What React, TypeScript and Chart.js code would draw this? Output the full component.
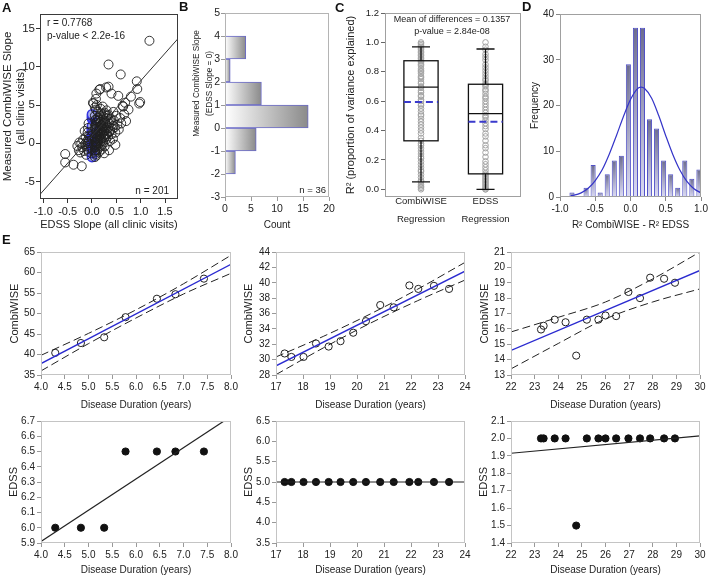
import React, { useEffect, useRef } from "react";
import { Chart, registerables } from "chart.js";
Chart.register(...registerables);

const FONT = "'Liberation Sans', Arial, Helvetica, sans-serif";
const INK = "#222222";
Chart.defaults.font.family = FONT;

// ---------------- Panel A data ----------------
const A_POINTS: [number, number][] = [
  [1.18, 13.4], [0.34, 10.3], [0.59, 9.0], [0.92, 8.1], [0.93, 7.1], [0.99, 5.4], [0.54, 6.2], [0.40, 6.5],
  [0.15, 7.0], [0.29, 7.3], [0.34, 7.4], [0.08, 5.8], [0.02, 5.3], [0.63, 4.9], [0.44, 4.1], [0.50, 3.6],
  [0.44, 2.3], [0.37, 1.6], [-0.55, -1.4], [-0.55, -2.5], [-0.38, -2.8], [-0.21, -3.0], [-0.30, -0.35],
  [-0.26, 0.1], [0.17, 7.1], [0.09, 6.5], [0.03, 5.2], [0.64, 4.8], [0.97, 5.2],
  [0.06, -0.5], [0.07, 0.2], [0.06, 0.8], [0.07, 1.3], [0.08, -0.2], [0.06, 0.5], [0.07, 1.8], [0.07, -0.9],
  [0.08, 0.1], [0.08, 2.4], [0.09, 1.1], [0.09, -0.4], [0.10, 0.7], [0.10, 1.6], [0.11, 2.9], [0.11, 0.0],
  [0.12, 1.2], [0.12, 3.3], [0.13, 0.4], [0.13, 2.1], [0.14, 1.7], [0.14, -0.6], [0.15, 2.6], [0.15, 0.9],
  [0.16, 1.4], [0.16, 3.6], [0.17, 0.2], [0.17, 2.0], [0.18, 1.1], [0.18, 2.8], [0.19, 1.6], [0.19, 3.9],
  [0.20, 0.6], [0.20, 2.3], [0.21, 1.3], [0.21, 3.1], [0.22, 1.9], [0.22, 0.3], [0.23, 2.6], [0.23, 3.5],
  [0.24, 1.0], [0.24, 2.2], [0.25, 1.5], [0.25, 3.0], [0.26, 2.0], [0.27, 2.7], [0.27, 0.8], [0.28, 1.7],
  [0.29, 3.3], [0.30, 2.4], [0.31, 1.2], [0.32, 2.9], [0.33, 2.0], [0.34, 3.7], [0.35, 1.5], [0.36, 2.6],
  [0.38, 3.2], [0.40, 2.8], [0.42, 1.9], [0.45, 3.0], [0.47, 2.1], [0.30, 4.3], [0.26, 4.0], [0.18, 4.5],
  [0.12, 4.1], [0.22, 4.8],
  [-0.06, 0.3], [-0.07, -0.6], [-0.06, 1.0], [-0.07, -1.1], [-0.08, 0.0], [-0.07, 0.6], [-0.08, -0.3],
  [-0.09, 1.4], [-0.10, -0.8], [-0.11, 0.2], [-0.12, -1.5], [-0.13, 0.8], [-0.14, -0.1], [-0.16, -1.0],
  [-0.18, 0.5], [-0.20, -0.5], [-0.22, 0.0], [-0.24, -1.2], [-0.27, -0.9], [-0.15, 1.6], [-0.08, 2.0], [-0.07, 2.6],
  [0.07, -1.2], [0.06, -1.8], [0.08, -1.4], [0.06, -1.0], [0.09, -1.6], [0.11, -0.9], [0.13, -0.2], [0.15, -1.1],
  [0.18, -0.3], [0.20, -0.8], [0.23, 0.1], [0.26, -0.4], [0.29, 0.5], [0.33, 0.9], [0.37, 0.3], [0.40, 1.2],
  [0.43, 0.6], [0.48, 1.4], [0.52, 2.4], [0.55, 1.8], [0.60, 2.6], [0.58, 3.3], [0.66, 3.8], [0.70, 2.9],
  [0.75, 4.4], [0.68, 5.3], [0.80, 6.1], [0.48, -0.2], [0.35, -0.9], [0.25, -1.3],
  [0.07, 1.9], [0.07, 3.0], [0.06, 3.6], [0.08, 4.4], [0.10, 5.0], [0.06, 4.7],
  [0.06, 2.2], [0.07, 3.1], [0.09, 2.7], [0.13, 1.5], [0.16, 0.7], [0.19, 2.4], [0.24, 3.8], [0.28, 1.1],
  [0.31, 3.6], [0.14, 3.0], [0.21, 1.8], [0.10, 0.3],
];
const A_BLUE_X = 0;
const A_BLUE_Y = [-1.8, -1.3, -0.9, -0.7, -0.5, -0.3, -0.2, -0.1, 0.05, 0.1, 0.15, 0.2, 0.3, 0.35, 0.4, 0.5,
  0.55, 0.6, 0.65, 0.7, 0.8, 0.85, 0.9, 0.95, 1.1, 1.3, 1.45, 1.5, 1.6, 1.8, 1.9, 2.3, 3.2, 3.4, 3.6, 3.8];
const A_FIT_X = [-1.07, 1.77];
const A_FIT_Y = [-6.7, 13.7];
const A_X_TICKS = [-1, -0.5, 0, 0.5, 1, 1.5];
const A_Y_TICKS = [-5, 0, 5, 10, 15];

// ---------------- Panel B data ----------------
const B_BIN_MID = [-1.5, -0.5, 0.5, 1.5, 2.5, 3.5];
const B_COUNT = [2, 6, 16, 7, 1, 4];
const B_X_TICKS = [0, 5, 10, 15, 20];
const B_Y_TICKS = [-3, -2, -1, 0, 1, 2, 3, 4, 5];

// ---------------- Panel C data ----------------
const C_GROUPS = [["CombiWISE", "Regression"], ["EDSS", "Regression"]];
const C_CW_R2 = [0.0, 0.01, 0.02, 0.03, 0.05, 0.06, 0.08, 0.1, 0.12, 0.13, 0.15, 0.17, 0.19, 0.21, 0.22, 0.24,
  0.26, 0.28, 0.3, 0.31, 0.33, 0.35, 0.38, 0.4, 0.42, 0.44, 0.46, 0.48, 0.5, 0.51, 0.53, 0.55, 0.57, 0.58, 0.6,
  0.61, 0.63, 0.64, 0.66, 0.67, 0.69, 0.7, 0.72, 0.73, 0.75, 0.76, 0.77, 0.79, 0.8, 0.81, 0.82, 0.84, 0.85, 0.86,
  0.87, 0.88, 0.89, 0.9, 0.91, 0.92, 0.93, 0.94, 0.95, 0.96, 0.97, 0.98, 0.99, 1.0];
const C_EDSS_R2 = [0.0, 0.0, 0.01, 0.02, 0.03, 0.04, 0.05, 0.06, 0.07, 0.08, 0.09, 0.1, 0.11, 0.13, 0.15, 0.17,
  0.19, 0.22, 0.25, 0.28, 0.3, 0.33, 0.36, 0.38, 0.41, 0.43, 0.45, 0.47, 0.49, 0.5, 0.52, 0.54, 0.56, 0.58, 0.6,
  0.62, 0.63, 0.65, 0.67, 0.68, 0.7, 0.71, 0.72, 0.74, 0.75, 0.77, 0.79, 0.81, 0.83, 0.85, 0.88, 0.9, 0.92, 0.95,
  0.97, 1.0];
const C_LOW = [0.05, 0.0];
const C_Q1 = [0.33, 0.105];
const C_MEDIAN = [0.695, 0.515];
const C_Q3 = [0.875, 0.715];
const C_HIGH = [0.97, 0.955];
const C_MEAN = [0.595, 0.46];
const C_Y_TICKS = [0, 0.2, 0.4, 0.6, 0.8, 1.0, 1.2];
const C_BOX_W = 0.53;
const C_CAP_W = 0.28;

// ---------------- Panel D data ----------------
const D_BIN_MID = [-0.83, -0.63, -0.53, -0.43, -0.33, -0.23, -0.13, -0.03, 0.07, 0.17, 0.27, 0.37, 0.47, 0.57,
  0.67, 0.77, 0.87, 0.97];
const D_COUNT = [1, 2, 7, 1, 5, 8, 9, 29, 37, 37, 17, 15, 8, 5, 2, 8, 4, 6];
const D_CURVE_X = [-0.85, -0.8, -0.7, -0.6, -0.5, -0.4, -0.3, -0.2, -0.1, 0, 0.1, 0.15, 0.2, 0.3, 0.4, 0.5, 0.6,
  0.7, 0.8, 0.9, 1.0];
const D_CURVE_Y = [0.3, 0.4, 0.9, 1.9, 3.6, 6.0, 9.4, 13.4, 17.6, 21.3, 23.7, 24.0, 23.7, 21.6, 17.8, 13.4, 9.3,
  5.9, 3.4, 1.8, 0.9];
const D_X_TICKS = [-1, -0.5, 0, 0.5, 1];
const D_Y_TICKS = [0, 10, 20, 30, 40];

// ---------------- Panel E data ----------------
const E1_X = [4.30, 4.84, 5.33, 5.78, 6.44, 6.83, 7.43];
const E1_Y = [40.4, 42.8, 44.2, 49.1, 53.6, 54.7, 58.5];
const E1_FIT_X = [4, 8];
const E1_FIT_Y = [37.8, 62.0];
const E1_BAND_X = [4, 5, 6, 7, 8];
const E1_UPPER = [39.8, 45.15, 50.9, 57.25, 64.2];
const E1_LOWER = [36.0, 42.65, 48.9, 54.75, 59.8];
const E1_X_TICKS = [4, 4.5, 5, 5.5, 6, 6.5, 7, 7.5, 8];
const E1_Y_TICKS = [35, 40, 45, 50, 55, 60, 65];

const E2_X = [17.32, 17.57, 18.02, 18.48, 18.95, 19.39, 19.86, 20.33, 20.86, 21.36, 21.94, 22.27, 22.85, 23.41];
const E2_Y = [30.8, 30.35, 30.35, 32.1, 31.7, 32.4, 33.5, 35.0, 37.1, 36.8, 39.65, 39.2, 39.6, 39.2];
const E2_FIT_X = [17, 24];
const E2_FIT_Y = [29.2, 41.5];
const E2_BAND_X = [17, 18.75, 20.5, 22.25, 24];
const E2_UPPER = [30.35, 33.02, 35.95, 39.17, 42.65];
const E2_LOWER = [28.05, 31.52, 34.75, 37.67, 40.35];
const E2_X_TICKS = [17, 18, 19, 20, 21, 22, 23, 24];
const E2_Y_TICKS = [28, 30, 32, 34, 36, 38, 40, 42, 44];

const E3_X = [23.27, 23.38, 23.85, 24.31, 24.76, 25.21, 25.70, 26.0, 26.45, 26.97, 27.46, 27.89, 28.48, 28.94];
const E3_Y = [15.96, 16.2, 16.6, 16.43, 14.26, 16.6, 16.6, 16.87, 16.83, 18.4, 18.0, 19.33, 19.26, 19.0];
const E3_FIT_X = [22, 30];
const E3_FIT_Y = [14.6, 19.8];
const E3_BAND_X = [22, 24, 26, 28, 30];
const E3_UPPER = [15.8, 16.75, 17.75, 19.25, 21.0];
const E3_LOWER = [13.4, 15.05, 16.65, 17.75, 18.6];
const E3_X_TICKS = [22, 23, 24, 25, 26, 27, 28, 29, 30];
const E3_Y_TICKS = [13, 14, 15, 16, 17, 18, 19, 20, 21];

const E4_Y = [6.0, 6.0, 6.0, 6.5, 6.5, 6.5, 6.5];
const E4_FIT_X = [4, 8];
const E4_FIT_Y = [5.91, 6.73];
const E4_Y_TICKS = [5.9, 6.0, 6.1, 6.2, 6.3, 6.4, 6.5, 6.6, 6.7];

const E5_Y = [5, 5, 5, 5, 5, 5, 5, 5, 5, 5, 5, 5, 5, 5];
const E5_FIT_X = [17, 24];
const E5_FIT_Y = [5.0, 5.0];
const E5_Y_TICKS = [3.5, 4.0, 4.5, 5.0, 5.5, 6.0, 6.5];

const E6_Y = [2, 2, 2, 2, 1.5, 2, 2, 2, 2, 2, 2, 2, 2, 2];
const E6_FIT_X = [22, 30];
const E6_FIT_Y = [1.915, 2.015];
const E6_Y_TICKS = [1.4, 1.5, 1.6, 1.7, 1.8, 1.9, 2.0, 2.1];

// ---------------- helpers ----------------
type Geo = { L: number; T: number; R: number; B: number; left: number; bottom: number; padTop?: number; padRight?: number };

function place(g: Geo) {
  const padTop = g.padTop ?? 10;
  const padRight = g.padRight ?? 12;
  const x = g.left;
  const y = g.T - padTop;
  return { x, y, w: g.R + padRight - x, h: g.bottom - y, yW: g.L - x, xH: g.bottom - g.B, padTop, padRight };
}

type AxisOpt = {
  min: number; max: number; ticks: number[]; fmt: (v: number, i: number) => any; size: number;
  title?: string | string[]; tSize?: number; tLH?: number; color: string; pad?: number; drawTicks?: boolean; lh?: number;
};

function axis(o: AxisOpt) {
  return {
    type: "linear",
    min: o.min,
    max: o.max,
    bounds: "data",
    offset: false,
    afterBuildTicks: (s: any) => { s.ticks = o.ticks.map((v) => ({ value: v })); },
    ticks: {
      autoSkip: false, maxRotation: 0, minRotation: 0, padding: o.pad ?? 2, color: INK,
      font: { family: FONT, size: o.size, lineHeight: o.lh ?? 1.2 },
      callback: (v: any, i: number) => o.fmt(Number(v), i),
    },
    grid: { display: true, drawOnChartArea: false, drawTicks: o.drawTicks ?? true, tickLength: 4, color: o.color, lineWidth: 1, offset: false },
    border: { display: false },
    title: o.title
      ? { display: true, text: o.title, color: INK, padding: 0, font: { family: FONT, size: o.tSize ?? 11, lineHeight: o.tLH ?? 1.2 } }
      : { display: false },
  };
}

function framePlugin(color: string) {
  return {
    id: "frame",
    afterDraw(chart: any) {
      const { ctx, chartArea: a } = chart;
      ctx.save();
      ctx.strokeStyle = color;
      ctx.lineWidth = 1;
      ctx.strokeRect(Math.round(a.left) + 0.5, Math.round(a.top) + 0.5, Math.round(a.right - a.left) - 1, Math.round(a.bottom - a.top) - 1);
      ctx.restore();
    },
  };
}

type Note = { text: string; fx: "l" | "r" | "c"; dx: number; fy: "t" | "b"; dy: number; size: number; align: CanvasTextAlign; rot?: boolean };
function notesPlugin(notes: Note[]) {
  return {
    id: "notes",
    afterDraw(chart: any) {
      const { ctx, chartArea: a } = chart;
      ctx.save();
      ctx.fillStyle = INK;
      ctx.textBaseline = "middle";
      for (const n of notes) {
        ctx.font = `${n.size}px ${FONT}`;
        ctx.textAlign = n.align;
        const x = n.fx === "l" ? a.left + n.dx : n.fx === "r" ? a.right - n.dx : (a.left + a.right) / 2 + n.dx;
        const y = n.fy === "t" ? a.top + n.dy : a.bottom - n.dy;
        if (n.rot) {
          ctx.save();
          ctx.translate(x, y);
          ctx.rotate(-Math.PI / 2);
          ctx.fillText(n.text, 0, 0);
          ctx.restore();
        } else {
          ctx.fillText(n.text, x, y);
        }
      }
      ctx.restore();
    },
  };
}

const xy = (xs: number[], ys: number[]) => xs.map((x, i) => ({ x, y: ys[i] }));
const f1 = (v: number) => v.toFixed(1);
const f0 = (v: number) => String(Math.round(v));
const ok = (...v: number[]) => v.every((n) => Number.isFinite(n));

type PanelDef = {
  geo: Geo; type: string; datasets: any[]; x: any; y: any; frame: string; plugins?: any[]; indexAxis?: string;
};

function buildConfig(def: PanelDef, p: ReturnType<typeof place>) {
  return {
    type: def.type,
    data: { datasets: def.datasets },
    options: {
      responsive: false,
      animation: false,
      events: [],
      indexAxis: def.indexAxis ?? "x",
      layout: { padding: { top: p.padTop, right: p.padRight, left: 0, bottom: 0 } },
      plugins: { legend: { display: false }, tooltip: { enabled: false }, title: { display: false } },
      scales: {
        x: { ...def.x, afterFit: (s: any) => { s.height = p.xH; } },
        y: { ...def.y, afterFit: (s: any) => { s.width = p.yW; } },
      },
    },
    plugins: [framePlugin(def.frame), ...(def.plugins ?? [])],
  } as any;
}

function Panel({ def }: { def: PanelDef }) {
  const ref = useRef<HTMLCanvasElement | null>(null);
  const p = place(def.geo);
  useEffect(() => {
    let chart: Chart | null = null;
    try {
      chart = new Chart(ref.current as HTMLCanvasElement, buildConfig(def, p));
    } catch (e) {
      console.error(e);
    }
    return () => { if (chart) chart.destroy(); };
  }, []);
  return <canvas ref={ref} width={p.w} height={p.h} style={{ position: "absolute", left: p.x, top: p.y, width: p.w, height: p.h }} />;
}

// ---------------- panel definitions ----------------
const panelA: PanelDef = {
  geo: { L: 40, T: 14, R: 178, B: 199, left: 1, bottom: 232 },
  type: "scatter",
  frame: "#3a3a3a",
  datasets: [
    { data: xy(A_FIT_X, A_FIT_Y), showLine: true, borderColor: "#333", borderWidth: 1, pointRadius: 0 },
    { data: A_POINTS.map(([x, y]) => ({ x, y })), pointRadius: 4.5, pointBackgroundColor: "rgba(0,0,0,0)", pointBorderColor: "#1f1f1f", pointBorderWidth: 0.9 },
    { data: A_BLUE_Y.map((y) => ({ x: A_BLUE_X, y })), pointRadius: 4.6, pointBackgroundColor: "#aab0f0", pointBorderColor: "#3434e0", pointBorderWidth: 1.5 },
  ],
  x: axis({ min: -1.068, max: 1.767, ticks: A_X_TICKS, fmt: f1, size: 11, title: "EDSS Slope (all clinic visits)", tSize: 11, color: "#333" }),
  y: axis({ min: -7.28, max: 16.9, ticks: A_Y_TICKS, fmt: f0, size: 11.5, title: ["Measured CombiWISE Slope", "(all clinic visits)"], tSize: 11.5, tLH: 1.15, color: "#333", pad: 1 }),
  plugins: [notesPlugin([
    { text: "r = 0.7768", fx: "l", dx: 7, fy: "t", dy: 9, size: 10, align: "left" },
    { text: "p-value < 2.2e-16", fx: "l", dx: 7, fy: "t", dy: 22, size: 10, align: "left" },
    { text: "n = 201", fx: "r", dx: 9, fy: "b", dy: 7.5, size: 10, align: "right" },
  ])],
};

const bBarFill = (c: any) => {
  const xs = c.chart.scales?.x;
  if (!xs || !c.raw || typeof c.raw.x !== "number") return "#bbbbbb";
  const x0 = xs.getPixelForValue(0);
  const x1 = xs.getPixelForValue(c.raw.x);
  if (!ok(x0, x1) || x1 - x0 < 0.5) return "#bbbbbb";
  const g = c.chart.ctx.createLinearGradient(x0, 0, x1, 0);
  g.addColorStop(0, "#ffffff");
  g.addColorStop(1, "#8a8a8a");
  return g;
};

const panelB: PanelDef = {
  geo: { L: 225, T: 13, R: 329, B: 197, left: 192, bottom: 231 },
  type: "bar",
  indexAxis: "y",
  frame: "#b4b4b4",
  datasets: [
    { data: xy(B_COUNT, B_BIN_MID), backgroundColor: bBarFill, borderColor: "#6a6ac8", borderWidth: 1, barPercentage: 1, categoryPercentage: 1 },
  ],
  x: axis({ min: 0, max: 20, ticks: B_X_TICKS, fmt: f0, size: 10.5, title: "Count", tSize: 10, color: "#999" }),
  y: axis({ min: -3, max: 5, ticks: B_Y_TICKS, fmt: f0, size: 10.5, color: "#999", pad: 1 }),
  plugins: [notesPlugin([
    { text: "n = 36", fx: "r", dx: 3, fy: "b", dy: 6.5, size: 9.5, align: "right" },
    { text: "Measured CombiWISE Slope", fx: "l", dx: -28.5, fy: "t", dy: 70.5, size: 8.2, align: "center", rot: true },
    { text: "(EDSS Slope = 0)", fx: "l", dx: -15.5, fy: "t", dy: 70.5, size: 8.2, align: "center", rot: true },
  ])],
};

const boxPlugin = {
  id: "cbox",
  afterDatasetsDraw(chart: any) {
    const { ctx, scales } = chart;
    const x = scales.x, y = scales.y;
    ctx.save();
    C_GROUPS.forEach((_, i) => {
      const cx = x.getPixelForValue(i);
      const hw = Math.abs(x.getPixelForValue(i + C_BOX_W / 2) - cx);
      const cw = Math.abs(x.getPixelForValue(i + C_CAP_W / 2) - cx);
      const yLo = y.getPixelForValue(C_LOW[i]);
      const yQ1 = y.getPixelForValue(C_Q1[i]);
      const yMed = y.getPixelForValue(C_MEDIAN[i]);
      const yQ3 = y.getPixelForValue(C_Q3[i]);
      const yHi = y.getPixelForValue(C_HIGH[i]);
      const yMean = y.getPixelForValue(C_MEAN[i]);
      ctx.strokeStyle = "#111";
      ctx.lineWidth = 1.3;
      ctx.beginPath();
      ctx.moveTo(cx, yQ1); ctx.lineTo(cx, yLo);
      ctx.moveTo(cx, yQ3); ctx.lineTo(cx, yHi);
      ctx.moveTo(cx - cw, yLo); ctx.lineTo(cx + cw, yLo);
      ctx.moveTo(cx - cw, yHi); ctx.lineTo(cx + cw, yHi);
      ctx.stroke();
      ctx.strokeRect(cx - hw, yQ3, 2 * hw, yQ1 - yQ3);
      ctx.beginPath();
      ctx.moveTo(cx - hw, yMed); ctx.lineTo(cx + hw, yMed);
      ctx.stroke();
      ctx.strokeStyle = "#3a3acc";
      ctx.lineWidth = 2;
      ctx.setLineDash([7, 4]);
      ctx.beginPath();
      ctx.moveTo(cx - hw, yMean); ctx.lineTo(cx + hw, yMean);
      ctx.stroke();
      ctx.setLineDash([]);
    });
    ctx.restore();
  },
};

const panelC: PanelDef = {
  geo: { L: 385, T: 13, R: 521, B: 197, left: 344, bottom: 232 },
  type: "scatter",
  frame: "#a0a0a0",
  datasets: [
    { data: C_CW_R2.map((y) => ({ x: 0, y })), pointRadius: 2.8, pointBackgroundColor: "rgba(0,0,0,0)", pointBorderColor: "#a4a4a4", pointBorderWidth: 1 },
    { data: C_EDSS_R2.map((y) => ({ x: 1, y })), pointRadius: 2.8, pointBackgroundColor: "rgba(0,0,0,0)", pointBorderColor: "#a4a4a4", pointBorderWidth: 1 },
  ],
  x: axis({ min: -0.558, max: 1.55, ticks: [0, 1], fmt: (_v, i) => C_GROUPS[i], size: 9.5, lh: 1.9, pad: -4.3, drawTicks: false, color: "#a0a0a0" }),
  y: axis({ min: -0.0525, max: 1.2, ticks: C_Y_TICKS, fmt: f1, size: 9.5, title: "R² (proportion of variance explained)", tSize: 11, color: "#666" }),
  plugins: [boxPlugin, notesPlugin([
    { text: "Mean of differences = 0.1357", fx: "c", dx: -1, fy: "t", dy: 6.5, size: 9, align: "center" },
    { text: "p-value = 2.84e-08", fx: "c", dx: -1, fy: "t", dy: 18.5, size: 9, align: "center" },
  ])],
};

const dBarFill = (c: any) => {
  const ys = c.chart.scales?.y;
  if (!ys || !c.raw || typeof c.raw.y !== "number") return "#9a9ab8";
  const top = ys.getPixelForValue(c.raw.y);
  const bot = ys.getPixelForValue(0);
  if (!ok(top, bot) || bot - top < 0.5) return "#9a9ab8";
  const g = c.chart.ctx.createLinearGradient(0, top, 0, bot);
  g.addColorStop(0, "#6c6c8e");
  g.addColorStop(1, "#dadaf3");
  return g;
};

const panelD: PanelDef = {
  geo: { L: 560, T: 14, R: 701, B: 197, left: 529, bottom: 231 },
  type: "bar",
  frame: "#a0a0a0",
  datasets: [
    { type: "line", data: xy(D_CURVE_X, D_CURVE_Y), borderColor: "#3434c8", borderWidth: 1.2, pointRadius: 0, cubicInterpolationMode: "monotone" },
    { data: xy(D_BIN_MID, D_COUNT), backgroundColor: dBarFill, borderColor: "#5050c8", borderWidth: 1, barPercentage: 0.72, categoryPercentage: 1 },
  ],
  x: axis({ min: -1, max: 1, ticks: D_X_TICKS, fmt: f1, size: 10, title: "R² CombiWISE - R² EDSS", tSize: 10, color: "#888" }),
  y: axis({ min: 0, max: 40, ticks: D_Y_TICKS, fmt: f0, size: 10, title: "Frequency", tSize: 10, color: "#888" }),
};

function eRow1(geo: Geo, xs: number[], ys: number[], fx: number[], fy: number[], bx: number[], up: number[], lo: number[], xr: number[], yr: number[], xt: number[], yt: number[], xf: any, yf: any): PanelDef {
  return {
    geo, type: "scatter", frame: "#c4c4c4",
    datasets: [
      { data: xy(bx, up), showLine: true, borderColor: "#222", borderWidth: 1, borderDash: [8, 4], pointRadius: 0, cubicInterpolationMode: "monotone" },
      { data: xy(bx, lo), showLine: true, borderColor: "#222", borderWidth: 1, borderDash: [8, 4], pointRadius: 0, cubicInterpolationMode: "monotone" },
      { data: xy(fx, fy), showLine: true, borderColor: "#2a2ad0", borderWidth: 1.4, pointRadius: 0 },
      { data: xy(xs, ys), pointRadius: 3.6, pointBackgroundColor: "rgba(0,0,0,0)", pointBorderColor: "#222", pointBorderWidth: 1 },
    ],
    x: axis({ min: xr[0], max: xr[1], ticks: xt, fmt: xf, size: 10, title: "Disease Duration (years)", tSize: 10, color: "#999" }),
    y: axis({ min: yr[0], max: yr[1], ticks: yt, fmt: yf, size: 10, title: "CombiWISE", tSize: 11, color: "#999" }),
  };
}

function eRow2(geo: Geo, xs: number[], ys: number[], fx: number[], fy: number[], xr: number[], yr: number[], xt: number[], yt: number[], xf: any, yf: any): PanelDef {
  return {
    geo, type: "scatter", frame: "#c4c4c4",
    datasets: [
      { data: xy(fx, fy), showLine: true, borderColor: "#222", borderWidth: 1.2, pointRadius: 0 },
      { data: xy(xs, ys), pointRadius: 3.6, pointBackgroundColor: "#111", pointBorderColor: "#111", pointBorderWidth: 1 },
    ],
    x: axis({ min: xr[0], max: xr[1], ticks: xt, fmt: xf, size: 10, title: "Disease Duration (years)", tSize: 10, color: "#999" }),
    y: axis({ min: yr[0], max: yr[1], ticks: yt, fmt: yf, size: 10, title: "EDSS", tSize: 11, color: "#999" }),
  };
}

const panelE1 = eRow1({ L: 41, T: 252, R: 231, B: 375, left: 8, bottom: 411 }, E1_X, E1_Y, E1_FIT_X, E1_FIT_Y, E1_BAND_X, E1_UPPER, E1_LOWER, [4, 8], [35, 65], E1_X_TICKS, E1_Y_TICKS, f1, f0);
const panelE2 = eRow1({ L: 276, T: 252, R: 465, B: 375, left: 242, bottom: 411 }, E2_X, E2_Y, E2_FIT_X, E2_FIT_Y, E2_BAND_X, E2_UPPER, E2_LOWER, [17, 24], [28, 44], E2_X_TICKS, E2_Y_TICKS, f0, f0);
const panelE3 = eRow1({ L: 511, T: 252, R: 700, B: 375, left: 478, bottom: 411 }, E3_X, E3_Y, E3_FIT_X, E3_FIT_Y, E3_BAND_X, E3_UPPER, E3_LOWER, [22, 30], [13, 21], E3_X_TICKS, E3_Y_TICKS, f0, f0);
const panelE4 = eRow2({ L: 41, T: 421, R: 231, B: 543, left: 7, bottom: 576 }, E1_X, E4_Y, E4_FIT_X, E4_FIT_Y, [4, 8], [5.9, 6.7], E1_X_TICKS, E4_Y_TICKS, f1, f1);
const panelE5 = eRow2({ L: 276, T: 421, R: 465, B: 543, left: 242, bottom: 576 }, E2_X, E5_Y, E5_FIT_X, E5_FIT_Y, [17, 24], [3.5, 6.5], E2_X_TICKS, E5_Y_TICKS, f0, f1);
const panelE6 = eRow2({ L: 511, T: 421, R: 700, B: 543, left: 477, bottom: 576 }, E3_X, E6_Y, E6_FIT_X, E6_FIT_Y, [22, 30], [1.4, 2.1], E3_X_TICKS, E6_Y_TICKS, f0, f1);

const PANELS = [panelA, panelB, panelC, panelD, panelE1, panelE2, panelE3, panelE4, panelE5, panelE6];

const LETTERS: { t: string; x: number; y: number }[] = [
  { t: "A", x: 2, y: 1 },
  { t: "B", x: 179, y: 0 },
  { t: "C", x: 335, y: 1 },
  { t: "D", x: 522, y: 0 },
  { t: "E", x: 2, y: 233 },
];

export default function App() {
  return (
    <div style={{ position: "fixed", left: 0, top: 0, width: 708, height: 577, overflow: "hidden", background: "#fff" }}>
      {PANELS.map((d, i) => (
        <Panel key={i} def={d} />
      ))}
      {LETTERS.map((l) => (
        <div key={l.t} style={{ position: "absolute", left: l.x, top: l.y, font: `bold 13px ${FONT}`, lineHeight: "13px", color: "#111" }}>
          {l.t}
        </div>
      ))}
    </div>
  );
}
